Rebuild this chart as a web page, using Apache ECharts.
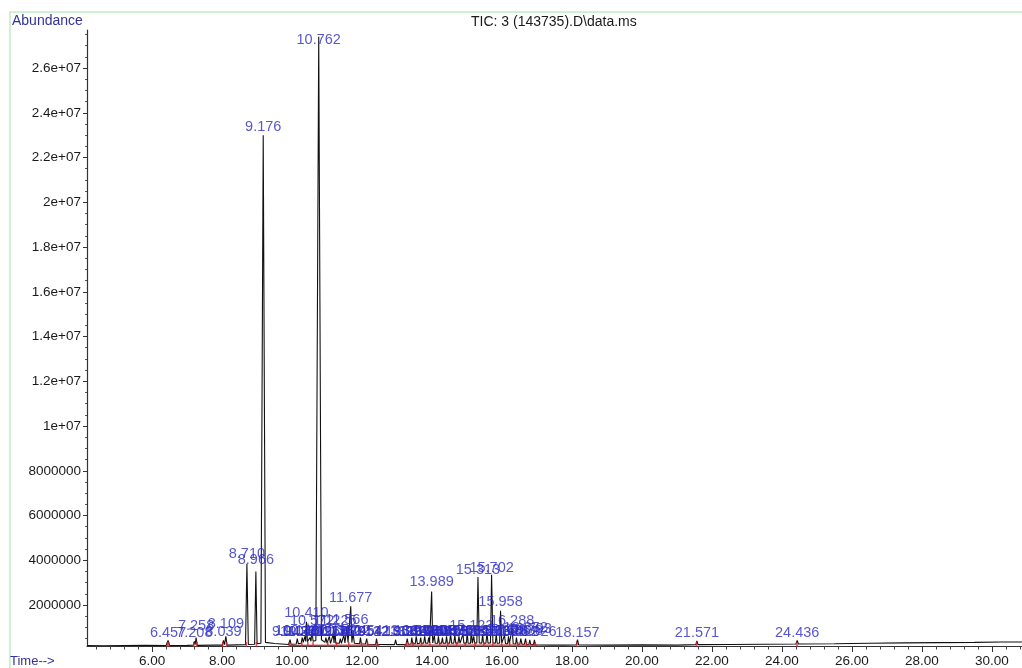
<!DOCTYPE html>
<html><head><meta charset="utf-8">
<script src="https://cdn.jsdelivr.net/npm/echarts@6/dist/echarts.min.js"></script>
<style>html,body{margin:0;padding:0;background:#fff}#c{width:1022px;height:668px}</style>
</head><body><div id="c"></div>
<script>
// ---- TIC trace, [time (min), abundance] ----
const ticEarly = [
 [4.14,0.19e6],[4.6,0.18e6],[5.2,0.19e6],[5.8,0.2e6],[6.40,0.19e6],[6.457,0.42e6],[6.50,0.19e6],
 [7.0,0.2e6],[7.18,0.21e6],[7.208,0.38e6],[7.23,0.23e6],[7.258,0.55e6],[7.29,0.2e6],
 [7.8,0.21e6],[8.01,0.21e6],[8.039,0.42e6],[8.07,0.23e6],[8.109,0.6e6],[8.14,0.21e6],
 [8.67,0.23e6],[8.710,3.85e6],[8.75,0.24e6],[8.93,0.25e6],[8.966,3.5e6],[9.00,0.27e6],
 [9.11,0.29e6],[9.176,23.0e6],[9.24,0.33e6],[9.5,0.28e6],[9.9,0.24e6]
];
const ticMid = [
 [9.92,0.23e6],[9.943,0.45e6],[9.97,0.25e6],[10.12,0.26e6],[10.148,0.5e6],[10.18,0.27e6],
 [10.26,0.29e6],[10.291,0.55e6],[10.32,0.33e6],[10.367,0.6e6],[10.39,0.38e6],[10.410,1.25e6],
 [10.44,0.36e6],[10.49,0.34e6],[10.512,0.55e6],[10.54,0.38e6],[10.572,0.9e6],[10.60,0.38e6],
 [10.68,0.42e6],[10.762,27.4e6],[10.84,0.45e6],[10.94,0.33e6],[10.968,0.55e6],[11.0,0.29e6],
 [11.04,0.29e6],[11.064,0.6e6],[11.10,0.29e6],[11.15,0.29e6],[11.176,0.7e6],[11.20,0.31e6],
 [11.225,0.85e6],[11.25,0.29e6],[11.35,0.29e6],[11.380,0.5e6],[11.41,0.29e6],[11.45,0.29e6],
 [11.479,0.65e6],[11.51,0.31e6],[11.566,0.95e6],[11.60,0.33e6],[11.64,0.33e6],[11.677,1.95e6],
 [11.71,0.33e6],[11.745,0.75e6],[11.78,0.29e6],[11.93,0.27e6],[11.954,0.55e6],[11.98,0.27e6],
 [12.10,0.26e6],[12.132,0.5e6],[12.16,0.25e6],[12.39,0.24e6],[12.413,0.5e6],[12.44,0.24e6],
 [12.93,0.23e6],[12.958,0.45e6],[12.99,0.23e6]
];
const ticLate = [
 [13.26,0.23e6],[13.291,0.5e6],[13.32,0.25e6],[13.40,0.26e6],[13.422,0.55e6],[13.45,0.27e6],
 [13.52,0.27e6],[13.548,0.6e6],[13.58,0.27e6],[13.65,0.29e6],[13.675,0.55e6],[13.70,0.29e6],
 [13.76,0.29e6],[13.790,0.6e6],[13.82,0.29e6],[13.88,0.29e6],[13.903,0.55e6],[13.93,0.31e6],
 [13.96,0.31e6],[13.989,2.6e6],[14.02,0.31e6],[14.04,0.29e6],[14.066,0.65e6],[14.09,0.29e6],
 [14.16,0.29e6],[14.182,0.6e6],[14.21,0.29e6],[14.27,0.29e6],[14.297,0.55e6],[14.32,0.29e6],
 [14.39,0.29e6],[14.415,0.6e6],[14.44,0.29e6],[14.50,0.29e6],[14.531,0.7e6],[14.56,0.29e6],
 [14.62,0.29e6],[14.652,0.65e6],[14.68,0.29e6],[14.74,0.29e6],[14.768,0.6e6],[14.80,0.29e6],
 [14.85,0.29e6],[14.883,0.7e6],[14.91,0.29e6],[14.98,0.29e6],[15.006,0.8e6],[15.03,0.29e6],
 [15.10,0.29e6],[15.123,0.9e6],[15.15,0.29e6],[15.17,0.29e6],[15.192,0.6e6],[15.22,0.29e6],
 [15.28,0.31e6],[15.313,3.25e6],[15.35,0.31e6],[15.42,0.29e6],[15.447,0.7e6],[15.47,0.29e6],
 [15.54,0.29e6],[15.571,0.75e6],[15.60,0.29e6],[15.67,0.31e6],[15.702,3.35e6],[15.74,0.31e6],
 [15.81,0.29e6],[15.835,0.7e6],[15.86,0.29e6],[15.93,0.29e6],[15.958,1.75e6],[15.99,0.29e6],
 [16.04,0.29e6],[16.071,0.65e6],[16.10,0.27e6],[16.16,0.27e6],[16.186,0.6e6],[16.21,0.27e6],
 [16.26,0.27e6],[16.288,0.95e6],[16.32,0.27e6],[16.39,0.26e6],[16.412,0.55e6],[16.44,0.26e6],
 [16.51,0.25e6],[16.538,0.5e6],[16.57,0.25e6],[16.64,0.25e6],[16.672,0.5e6],[16.70,0.24e6],
 [16.77,0.24e6],[16.793,0.45e6],[16.82,0.24e6],[16.90,0.23e6],[16.926,0.45e6],[16.95,0.22e6],
 [17.4,0.21e6]
];
const ticTail = [
 [17.8,0.21e6],[18.12,0.22e6],[18.157,0.45e6],[18.19,0.22e6],[19.0,0.21e6],[20.0,0.22e6],
 [21.0,0.21e6],[21.54,0.23e6],[21.571,0.4e6],[21.60,0.23e6],[22.5,0.24e6],[23.5,0.25e6],
 [24.40,0.26e6],[24.436,0.42e6],[24.47,0.26e6],[25.5,0.27e6],[26.5,0.29e6],[27.5,0.31e6],
 [28.5,0.32e6],[29.5,0.33e6],[30.3,0.35e6],[30.86,0.35e6]
];
// integration baseline segments (red) and integration marks
const integBaseline = [[9.9,0.2e6],[12.5,0.21e6],[null,null],[13.2,0.21e6],[17.0,0.21e6]];
const integMarks = [6.44,6.48,7.19,7.28,8.02,8.13,8.69,8.98,9.93,10.28,10.45,10.60,11.02,11.27,
 11.62,11.98,12.16,12.44,13.27,13.46,13.70,13.94,14.22,14.45,14.71,14.95,15.23,15.48,15.74,15.99,
 16.22,16.45,16.70,16.95,18.14,21.56,24.43];
// peak labels: retention time and label height (abundance)
const peakLabelTime = [6.457,7.258,7.208,8.109,8.039,8.710,8.966,9.176,10.762,10.410,10.572,11.225,
 11.566,11.677,9.943,10.148,10.291,10.367,10.512,10.968,11.064,11.176,11.380,11.479,11.745,11.954,
 12.132,12.413,12.958,13.291,13.422,13.548,13.675,13.790,13.903,13.989,14.066,14.182,14.297,14.415,
 14.531,14.652,14.768,14.883,15.006,15.123,15.192,15.313,15.447,15.571,15.702,15.835,15.958,16.071,
 16.186,16.288,16.412,16.538,16.672,16.793,16.926,18.157,21.571,24.436];
const peakLabelLevel = [0.76e6,1.07e6,0.76e6,1.16e6,0.80e6,4.28e6,4.01e6,23.37e6,27.25e6,1.65e6,1.29e6,1.29e6,
 1.34e6,2.32e6,0.80e6,0.82e6,0.80e6,0.84e6,0.80e6,0.80e6,0.82e6,0.80e6,0.84e6,0.80e6,0.82e6,0.80e6,
 0.80e6,0.82e6,0.80e6,0.78e6,0.80e6,0.82e6,0.80e6,0.82e6,0.80e6,3.03e6,0.82e6,0.80e6,0.84e6,0.80e6,
 0.82e6,0.80e6,0.82e6,0.80e6,0.84e6,1.07e6,0.80e6,3.57e6,0.82e6,0.80e6,3.66e6,0.82e6,2.14e6,0.80e6,
 0.82e6,1.29e6,0.80e6,0.82e6,0.98e6,0.94e6,0.80e6,0.76e6,0.76e6,0.76e6];
// axis ticks
const xTickLabels = [6,8,10,12,14,16,18,20,22,24,26,28,30];
const yTickLabels = [2e6,4e6,6e6,8e6,10e6,12e6,14e6,16e6,18e6,20e6,22e6,24e6,26e6];
const xMin = 4.14, xMax = 30.86, yMin = 0.17e6, yMax = 27.7e6;

const xMinor = []; for (let v = 4.4; v < xMax; v += 0.4) { const r = Math.round(v*10)/10; if (Math.abs(r/2 - Math.round(r/2)) > 1e-6) xMinor.push(r); }
const yMinor = []; for (let v = 0.5e6; v < yMax; v += 0.5e6) { if (v % 2e6 !== 0) yMinor.push(v); }

const FONT = 'Liberation Sans, Arial, sans-serif';
function fmtY(v){ if (v >= 1e7) return (Math.round(v/1e6)/10) + 'e+07'; return String(Math.round(v)); }

const ticData = ticEarly.concat(ticMid, ticLate, ticTail);
const labelData = peakLabelTime.map((t,i) => ({ value:[t, peakLabelLevel[i]], name: t.toFixed(3) }));

const chart = echarts.init(document.getElementById('c'), null, {renderer:'canvas'});
chart.setOption({
  animation:false,
  backgroundColor:'#fff',
  title:[
    {text:'TIC: 3 (143735).D\\data.ms', left:471, top:15, padding:0, textStyle:{fontSize:14, fontWeight:'normal', color:'#1a1a1a', fontFamily:FONT}},
    {text:'Abundance', left:12, top:14, padding:0, textStyle:{fontSize:14, fontWeight:'normal', color:'#33339e', fontFamily:FONT}},
    {text:'Time-->', left:10, top:655, padding:0, textStyle:{fontSize:13, fontWeight:'normal', color:'#33339e', fontFamily:FONT}}
  ],
  graphic:[{type:'rect', silent:true, z:-10, shape:{x:10, y:12, width:1100, height:700}, style:{fill:'none', stroke:'#c2eac2', lineWidth:1.5}}],
  grid:{left:87, right:0, top:30, bottom:21, containLabel:false},
  xAxis:[
    {type:'value', position:'bottom', min:xMin, max:xMax,
     axisLine:{onZero:false, lineStyle:{color:'#333', width:1.2}},
     axisTick:{customValues:xTickLabels, length:6, lineStyle:{color:'#333'}},
     axisLabel:{customValues:xTickLabels, formatter:v=>v.toFixed(2), color:'#1a1a1a', fontSize:13.5, margin:8, fontFamily:FONT},
     splitLine:{show:false}},
    {type:'value', position:'bottom', min:xMin, max:xMax,
     axisLine:{show:false, onZero:false},
     axisTick:{customValues:xMinor, length:3.5, lineStyle:{color:'#444'}},
     axisLabel:{show:false}, splitLine:{show:false}}
  ],
  yAxis:[
    {type:'value', position:'left', min:yMin, max:yMax,
     axisLine:{show:true, onZero:false, lineStyle:{color:'#333', width:1.2}},
     axisTick:{show:true, customValues:yTickLabels, length:4, lineStyle:{color:'#333'}},
     axisLabel:{customValues:yTickLabels, formatter:fmtY, color:'#1a1a1a', fontSize:13.5, margin:6, fontFamily:FONT},
     splitLine:{show:false}},
    {type:'value', position:'left', min:yMin, max:yMax,
     axisLine:{show:false, onZero:false},
     axisTick:{show:true, customValues:yMinor, length:2, lineStyle:{color:'#555'}},
     axisLabel:{show:false}, splitLine:{show:false}}
  ],
  series:[
    {type:'line', data:ticData, showSymbol:false, symbol:'none', silent:true, z:3,
     lineStyle:{color:'#111', width:1.1}, sampling:false},
    {type:'line', data:integBaseline, showSymbol:false, symbol:'none', silent:true, z:4, connectNulls:false,
     lineStyle:{color:'#cc2a2a', width:1.2}},
    {type:'scatter', data:integMarks.map(t=>[t,0.24e6]), symbol:'rect', symbolSize:[1.5,5], silent:true, z:5,
     itemStyle:{color:'#d02424'}},
    {type:'scatter', data:labelData, symbolSize:0, silent:true, z:6,
     label:{show:true, position:'inside', formatter:p=>p.name, color:'#2c2cc4', fontSize:14.5, fontFamily:FONT}}
  ]
});
</script></body></html>
